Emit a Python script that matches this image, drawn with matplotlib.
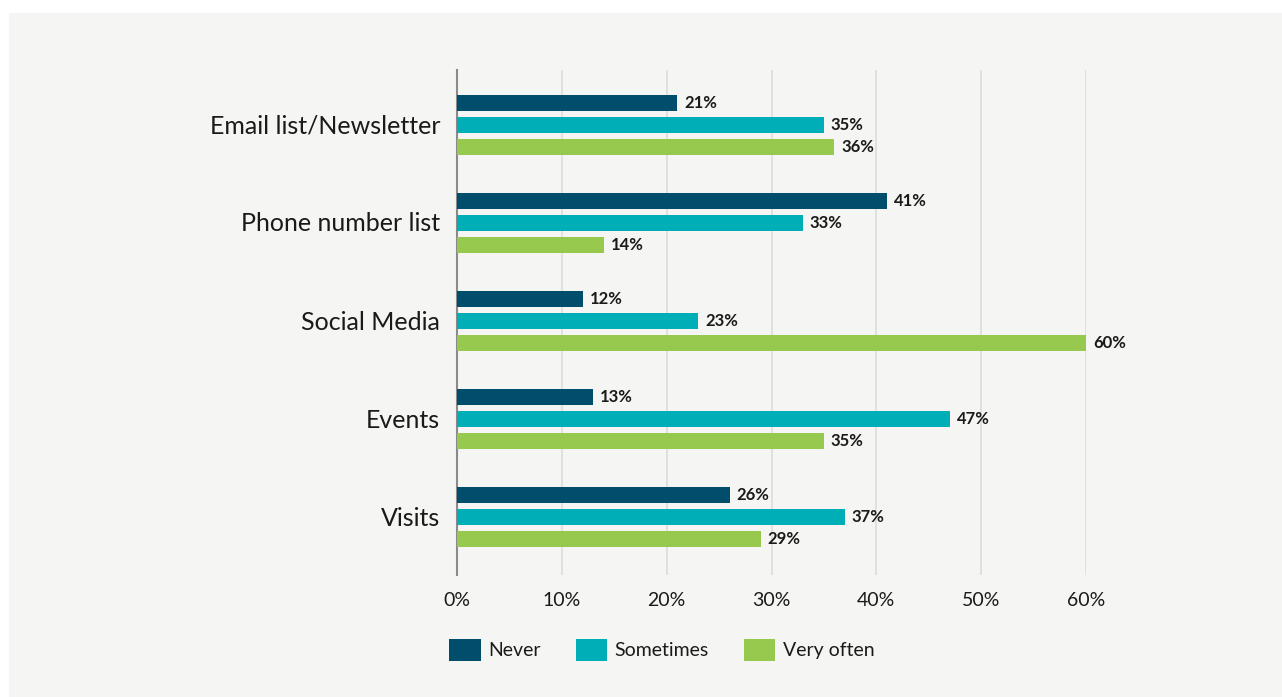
import numpy as np
import matplotlib.pyplot as plt
from matplotlib.patches import Patch, Rectangle

channels = ['Email list/Newsletter', 'Phone number list', 'Social Media', 'Events', 'Visits']
never = [21, 41, 12, 13, 26]
sometimes = [35, 33, 23, 47, 37]
very_often = [36, 14, 60, 35, 29]
series = ['Never', 'Sometimes', 'Very often']
colors = ['#004e6c', '#00aeb8', '#97c94e']

plt.rcParams['font.family'] = ['Lato', 'DejaVu Sans']

fig = plt.figure(figsize=(12.82, 6.97), dpi=100, facecolor='white')
bg = '#f5f5f3'
fig.patches.append(Rectangle((9 / 1282, 0), 1, 1 - 13 / 697, transform=fig.transFigure,
                             facecolor=bg, edgecolor='none', zorder=-10))

ax = fig.add_axes([457 / 1282, 1 - 575 / 697, (1086 - 457) / 1282, (575 - 70) / 697])
ax.set_facecolor(bg)

y = np.arange(len(channels))
h = 16 / 98
step = 22 / 98
for k, (vals, name, c) in enumerate(zip([never, sometimes, very_often], series, colors)):
    pos = y + (k - 1) * step + 0.01
    ax.barh(pos, vals, height=h, color=c, label=name, zorder=3)
    for p, v in zip(pos, vals):
        ax.text(v + 0.65, p, f'{v}%', va='center', ha='left', fontsize=12,
                fontweight='bold', color='#1a1a1a', zorder=4)

ax.set_xlim(0, 60)
ax.set_ylim(4 + 0.602, -0.551)
ax.set_xticks(range(0, 61, 10))
ax.set_xticklabels([f'{t}%' for t in range(0, 61, 10)], fontsize=14, color='#1a1a1a')
ax.set_yticks(y)
ax.set_yticklabels(channels, fontsize=18, color='#1a1a1a')
ax.tick_params(axis='x', length=0, pad=12)
ax.tick_params(axis='y', length=0, pad=12)

ax.grid(axis='x', color='#dcdcdc', linewidth=1.2, zorder=0)
for s in ['top', 'right', 'bottom']:
    ax.spines[s].set_visible(False)
ax.spines['left'].set_color('#8a8a8a')
ax.spines['left'].set_linewidth(1.5)

handles = [Patch(facecolor=c, label=n) for n, c in zip(series, colors)]
fig.legend(handles=handles, loc='center', bbox_to_anchor=(662 / 1282, 1 - 650 / 697),
           ncol=3, frameon=False, fontsize=14, handlelength=1.6, handleheight=1.4,
           handletextpad=0.4, columnspacing=1.8, labelcolor='#1a1a1a')

fig.savefig('out.png', dpi=100, facecolor=fig.get_facecolor())
